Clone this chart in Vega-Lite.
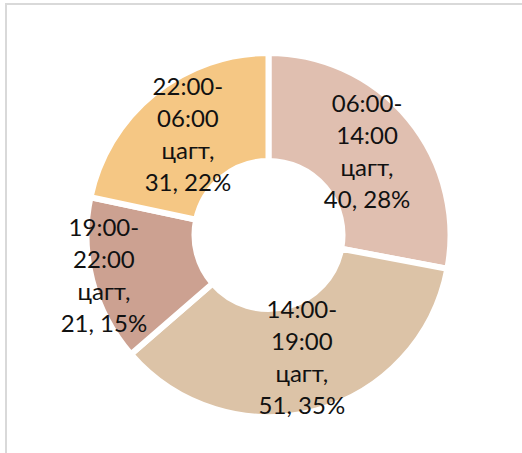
{
  "$schema": "https://vega.github.io/schema/vega-lite/v6.json",
  "width": 525,
  "height": 462,
  "padding": {"left": 6, "top": 4, "right": 0, "bottom": 0},
  "background": "#ffffff",
  "view": {"stroke": "#d9d9d9", "strokeWidth": 2},
  "data": {
    "values": [
      {"period": "06:00-14:00", "count": 40, "label": "06:00-\n14:00\nцагт,\n40, 28%"},
      {"period": "14:00-19:00", "count": 51, "label": "14:00-\n19:00\nцагт,\n51, 35%"},
      {"period": "19:00-22:00", "count": 21, "label": "19:00-\n22:00\nцагт,\n21, 15%"},
      {"period": "22:00-06:00", "count": 31, "label": "22:00-\n06:00\nцагт,\n31, 22%"}
    ]
  },
  "encoding": {
    "theta": {"field": "count", "type": "quantitative", "stack": true},
    "order": {"field": "period", "sort": "ascending"}
  },
  "layer": [
    {
      "mark": {"type": "arc", "outerRadius": 182, "innerRadius": 74, "stroke": "#ffffff", "strokeWidth": 6},
      "encoding": {
        "color": {
          "field": "period",
          "type": "nominal",
          "scale": {
            "domain": ["06:00-14:00", "14:00-19:00", "19:00-22:00", "22:00-06:00"],
            "range": ["#e0bfb0", "#dcc3a7", "#cca191", "#f5c784"]
          },
          "legend": null
        }
      }
    },
    {
      "mark": {"type": "text", "radius": 128, "dy": -48, "font": "Lato", "fontSize": 24, "lineBreak": "\n", "lineHeight": 32, "align": "center", "baseline": "middle", "color": "#111111"},
      "encoding": {
        "text": {"field": "label"},
        "opacity": {"condition": {"test": "datum.period === '19:00-22:00'", "value": 0}, "value": 1}
      }
    },
    {
      "mark": {"type": "text", "radius": 170, "dy": -48, "font": "Lato", "fontSize": 24, "lineBreak": "\n", "lineHeight": 32, "align": "center", "baseline": "middle", "color": "#111111"},
      "encoding": {
        "text": {"field": "label"},
        "opacity": {"condition": {"test": "datum.period === '19:00-22:00'", "value": 1}, "value": 0}
      }
    }
  ]
}
